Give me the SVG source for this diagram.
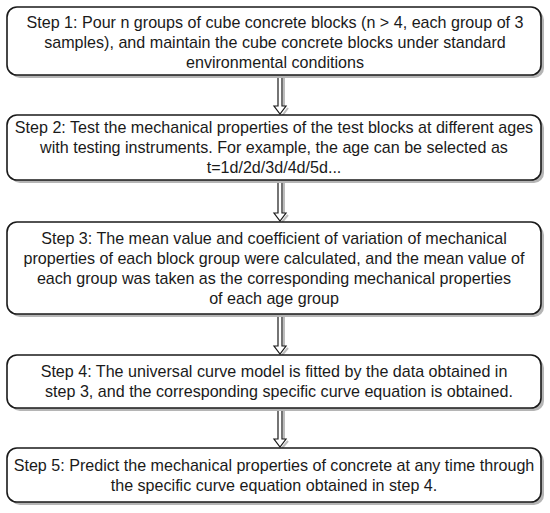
<svg xmlns="http://www.w3.org/2000/svg" width="550" height="513" viewBox="0 0 550 513">
<defs>
<style>
.sh{fill:#b5b5b5;stroke:none}
.box{fill:#fff;stroke:#1a1a1a;stroke-width:1.6}
.t{font-family:"Liberation Sans",Arial,sans-serif;font-size:16.1px;fill:#1a1a1a;text-anchor:middle}
.arr{fill:#fff;stroke:#1a1a1a;stroke-width:1.2;stroke-linejoin:miter}
.ash{fill:none;stroke:#bdbdbd;stroke-width:2}
</style>
</defs>
<rect width="550" height="513" fill="#fff"/>
<g id="connectors">
<path class="ash" d="M284,77 V106 M288,108 L282,116"/>
<path class="arr" d="M278,75 V106 H274 L280,114 L286,106 H282 V75"/>
<path class="ash" d="M284,182 V213 M288,215 L282,222"/>
<path class="arr" d="M278,180 V213 H274 L280,221 L286,213 H282 V180"/>
<path class="ash" d="M284,316 V346 M288,348 L282,355"/>
<path class="arr" d="M278,314 V346 H274 L280,354 L286,346 H282 V314"/>
<path class="ash" d="M284,410 V439 M288,441 L282,448"/>
<path class="arr" d="M278,408 V439 H274 L280,447 L286,439 H282 V408"/>
</g>
<g id="step1">
<rect class="sh" x="10" y="10" width="534" height="68" rx="10"/>
<rect class="box" x="7" y="7" width="534" height="68" rx="10"/>
<text class="t" x="275" y="28">Step 1: Pour n groups of cube concrete blocks (n &gt; 4, each group of 3</text>
<text class="t" x="275" y="48">samples), and maintain the cube concrete blocks under standard</text>
<text class="t" x="275" y="68">environmental conditions</text>
</g>
<g id="step2">
<rect class="sh" x="10" y="118" width="534" height="65" rx="10"/>
<rect class="box" x="7" y="115" width="534" height="65" rx="10"/>
<text class="t" x="274" y="133">Step 2: Test the mechanical properties of the test blocks at different ages</text>
<text class="t" x="274" y="153">with testing instruments. For example, the age can be selected as</text>
<text class="t" x="274" y="173">t=1d/2d/3d/4d/5d...</text>
</g>
<g id="step3">
<rect class="sh" x="10" y="225" width="534" height="92" rx="10"/>
<rect class="box" x="7" y="222" width="534" height="92" rx="10"/>
<text class="t" x="274" y="244">Step 3: The mean value and coefficient of variation of mechanical</text>
<text class="t" x="274" y="264">properties of each block group were calculated, and the mean value of</text>
<text class="t" x="274" y="284">each group was taken as the corresponding mechanical properties</text>
<text class="t" x="274" y="304">of each age group</text>
</g>
<g id="step4">
<rect class="sh" x="10" y="358" width="534" height="53" rx="10"/>
<rect class="box" x="7" y="355" width="534" height="53" rx="10"/>
<text class="t" x="274" y="377">Step 4: The universal curve model is fitted by the data obtained in</text>
<text class="t" x="279" y="397">step 3, and the corresponding specific curve equation is obtained.</text>
</g>
<g id="step5">
<rect class="sh" x="10" y="451" width="534" height="54" rx="10"/>
<rect class="box" x="7" y="448" width="534" height="54" rx="10"/>
<text class="t" x="274" y="471">Step 5: Predict the mechanical properties of concrete at any time through</text>
<text class="t" x="274" y="491">the specific curve equation obtained in step 4.</text>
</g>
</svg>
